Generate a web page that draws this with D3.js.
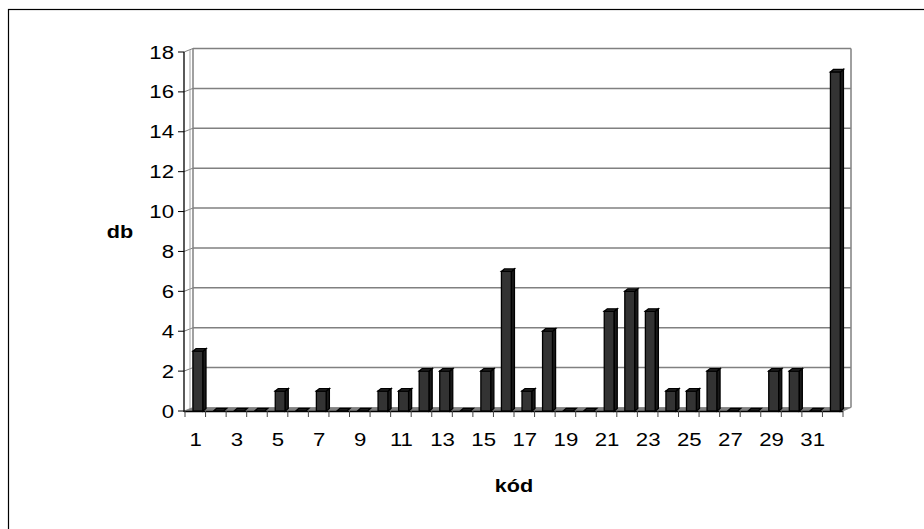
<!DOCTYPE html>
<html>
<head>
<meta charset="utf-8">
<script src="https://cdn.jsdelivr.net/npm/d3@7"></script>
<style>
  html, body { margin: 0; padding: 0; background: #fff; }
  svg { display: block; font-family: "Liberation Sans", Arial, sans-serif; }
</style>
</head>
<body>
<svg id="chart" width="924" height="529"></svg>
<script>
// Category codes and counts
const codes = d3.range(1, 33);
const counts = [3, 0, 0, 0, 1, 0, 1, 0, 0, 1, 1, 2, 2, 0, 2, 7, 1, 4, 0, 0, 5, 6, 5, 1, 1, 2, 0, 0, 2, 2, 0, 17];
const yTicks = [0, 2, 4, 6, 8, 10, 12, 14, 16, 18];
const xTickLabels = codes.filter(c => c % 2 === 1);

const svg = d3.select("#chart");

// Wide text, as the chart's fonts are horizontally stretched
function label(parent, px, py, str, opts = {}) {
  return parent.append("text")
    .attr("transform", `translate(${px},${py}) scale(1.2,1)`)
    .attr("text-anchor", opts.anchor || "middle")
    .attr("font-size", opts.size || 18.5)
    .attr("font-weight", opts.weight || "normal")
    .attr("fill", "#000")
    .text(str);
}

// Outer frame
svg.append("rect")
  .attr("x", 8.5).attr("y", 9.5)
  .attr("width", 930).attr("height", 540)
  .attr("fill", "none").attr("stroke", "#000").attr("stroke-width", 1.2);

const x = d3.scaleBand().domain(codes).range([185, 843]).padding(0);
const y = d3.scaleLinear().domain([0, 18]).range([411, 52]);

// depth offset of the back wall
const DX = 9, DY = -3.5;
const left = 184, right = 843;

const g = svg.append("g");

// back wall gridlines
yTicks.forEach(v => {
  const yy = y(v) + DY;
  if (v > 0) {
    g.append("line")
      .attr("x1", left + DX).attr("x2", right + DX - 1)
      .attr("y1", yy).attr("y2", yy)
      .attr("stroke", "#808080").attr("stroke-width", 1.5);
    // side wall segment
    g.append("line")
      .attr("x1", left).attr("y1", y(v))
      .attr("x2", left + DX).attr("y2", yy)
      .attr("stroke", "#808080").attr("stroke-width", 1);
  }
});

// wall edges
g.append("line").attr("x1", left + DX).attr("x2", left + DX)
  .attr("y1", y(18) + DY).attr("y2", y(0) + DY)
  .attr("stroke", "#808080").attr("stroke-width", 1.5);
g.append("line").attr("x1", left + 6).attr("x2", left + 6)
  .attr("y1", y(18) - 2).attr("y2", y(0) - 2)
  .attr("stroke", "#a0a0a0").attr("stroke-width", 1);
g.append("line").attr("x1", right + DX - 1).attr("x2", right + DX - 1)
  .attr("y1", y(18) + DY).attr("y2", y(0) + DY)
  .attr("stroke", "#808080").attr("stroke-width", 1.5);

// floor
g.append("path")
  .attr("d", `M${left},${y(0)} L${right},${y(0)} L${right + DX - 1},${y(0) + DY} L${left + DX},${y(0) + DY} Z`)
  .attr("fill", "#808080").attr("stroke", "#808080").attr("stroke-width", 0.8);

// y axis
g.append("line").attr("x1", left).attr("x2", left)
  .attr("y1", y(18)).attr("y2", y(0) + 1)
  .attr("stroke", "#000").attr("stroke-width", 1.3);
yTicks.forEach(v => {
  g.append("line").attr("x1", left - 6).attr("x2", left)
    .attr("y1", y(v)).attr("y2", y(v))
    .attr("stroke", "#000").attr("stroke-width", 1);
  label(g, 174, y(v) + 6.5, v, { anchor: "end" });
});

// x axis
g.append("line").attr("x1", left).attr("x2", right)
  .attr("y1", y(0) + 0.5).attr("y2", y(0) + 0.5)
  .attr("stroke", "#000").attr("stroke-width", 1.3);
codes.concat([33]).forEach((c, i) => {
  const xx = i < codes.length ? x(c) : x(32) + x.bandwidth();
  g.append("line").attr("x1", xx).attr("x2", xx)
    .attr("y1", y(0)).attr("y2", y(0) + 6)
    .attr("stroke", "#444").attr("stroke-width", 1);
});
xTickLabels.forEach(c => {
  label(g, x(c) + x.bandwidth() / 2 + 0.5, 446, c);
});

// 3D columns
const BW = 10, BD = 3, BH = -2.5;
const bars = g.append("g").selectAll("g").data(codes.map((c, i) => ({ c, v: counts[i] }))).join("g");
bars.each(function (d) {
  const x0 = x(d.c) + 8, x1 = x0 + BW;
  const yt = y(d.v), yb = y(0);
  const sel = d3.select(this);
  if (d.v > 0) {
    sel.append("rect").attr("x", x0).attr("y", yt).attr("width", BW).attr("height", yb - yt)
      .attr("fill", "#333333").attr("stroke", "#000").attr("stroke-width", 1.3);
    sel.append("path")
      .attr("d", `M${x1},${yt} L${x1 + BD},${yt + BH} L${x1 + BD},${yb + BH} L${x1},${yb} Z`)
      .attr("fill", "#1a1a1a").attr("stroke", "#000").attr("stroke-width", 1.3);
  }
  sel.append("path")
    .attr("d", `M${x0},${yt} L${x0 + BD},${yt + BH} L${x1 + BD},${yt + BH} L${x1},${yt} Z`)
    .attr("fill", "#262626").attr("stroke", "#000").attr("stroke-width", 1.3);
});

// axis titles
label(svg, 120, 238, "db", { size: 18, weight: "bold" });
label(svg, 514, 492, "kód", { size: 18, weight: "bold" });
</script>
</body>
</html>
